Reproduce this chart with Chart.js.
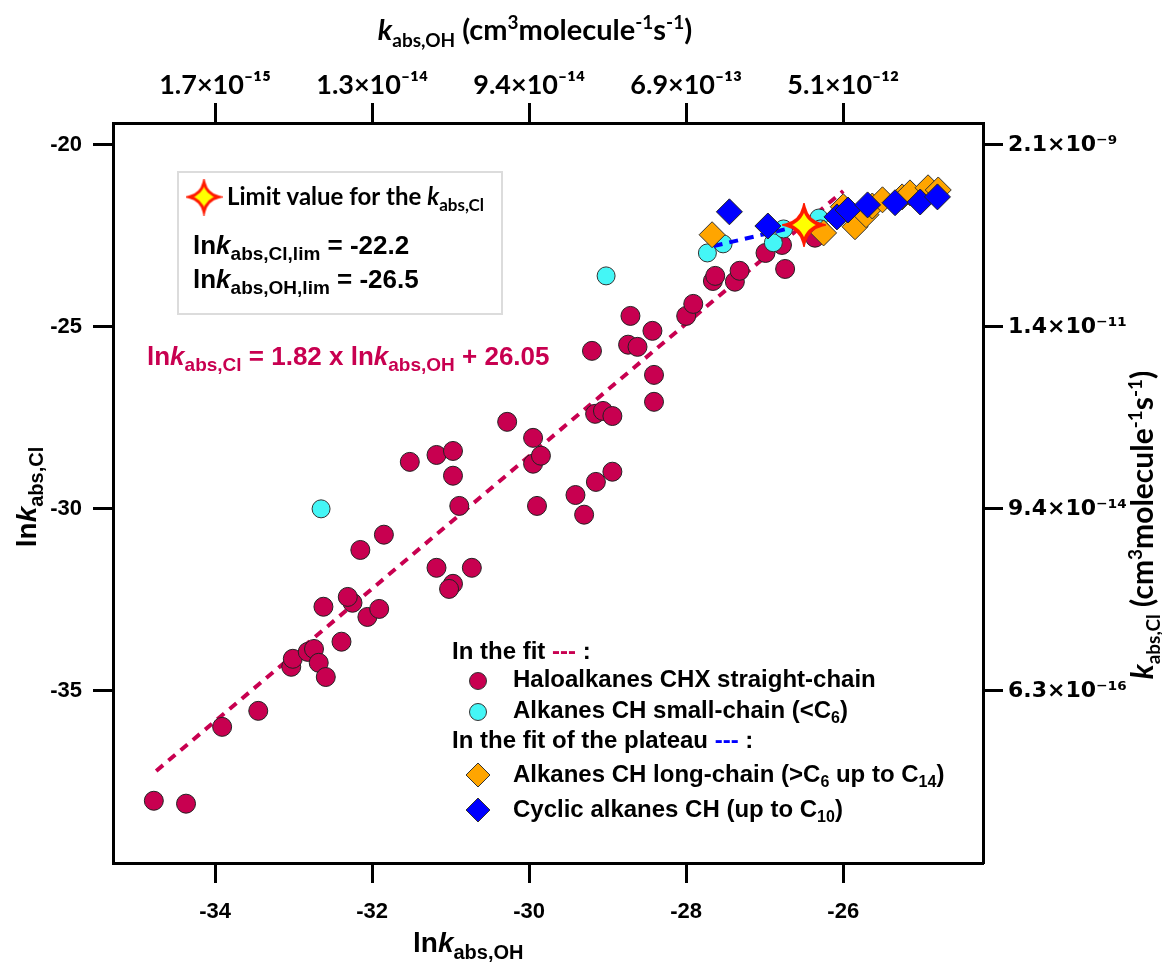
<!DOCTYPE html>
<html>
<head>
<meta charset="utf-8">
<script src="https://cdn.jsdelivr.net/npm/chart.js@4.4.1/dist/chart.umd.min.js"></script>
<style>body{margin:0;background:#fff}</style>
</head>
<body>
<canvas id="chart" width="1162" height="967"></canvas>
<script>
// ln k_abs,OH (x) and ln k_abs,Cl (y)
const haloX = [-34.78, -34.37, -33.91, -33.45, -33.03, -33.01, -32.82, -32.74, -32.68, -32.59, -32.39, -32.62, -32.25, -32.31, -32.06, -31.91, -32.15, -31.85, -31.52, -31.18, -30.97, -30.97, -30.89, -31.18, -30.73, -30.97, -31.02, -30.28, -29.95, -29.95, -29.85, -29.90, -29.41, -29.30, -29.15, -28.94, -29.16, -29.06, -28.94, -28.41, -28.41, -29.20, -28.71, -28.43, -28.74, -28.62, -28.00, -27.91, -27.66, -27.63, -27.38, -27.32, -26.99, -26.78, -26.74, -26.36];
const haloY = [-38.02, -38.10, -35.99, -35.55, -34.34, -34.12, -33.93, -33.85, -34.23, -34.62, -33.65, -32.69, -32.58, -32.42, -32.97, -32.75, -31.13, -30.71, -28.71, -28.52, -28.41, -29.09, -29.92, -31.62, -31.62, -32.06, -32.20, -27.61, -28.05, -28.76, -28.54, -29.92, -29.62, -30.16, -29.26, -28.98, -27.39, -27.31, -27.45, -26.32, -27.06, -25.66, -24.70, -25.11, -25.49, -25.55, -24.70, -24.37, -23.74, -23.60, -23.76, -23.46, -22.97, -22.75, -23.41, -22.55];

const smallX = [-32.65, -29.02, -27.73, -27.53, -26.89, -26.76, -26.31, -26.29];
const smallY = [-30.00, -23.60, -22.97, -22.72, -22.69, -22.31, -22.01, -22.31];

const longX = [-27.67, -26.25, -25.85, -26.00, -25.71, -25.63, -25.50, -25.25, -25.15, -24.92, -24.79];
const longY = [-22.47, -22.42, -22.25, -21.70, -21.92, -21.68, -21.51, -21.43, -21.32, -21.18, -21.24];

const cycX = [-27.45, -26.96, -26.08, -25.94, -25.69, -25.34, -25.02, -24.80];
const cycY = [-21.84, -22.23, -21.98, -21.79, -21.65, -21.59, -21.57, -21.43];

const limX = [-26.5];
const limY = [-22.2];

// fit line ends and plateau line ends
const fitX = [-34.75, -26.0];
const fitY = [-37.2, -21.27];
const plateauX = [-27.65, -26.6];
const plateauY = [-22.78, -22.25];

const xTicks = [-34, -32, -30, -28, -26];
const yTicks = [-20, -25, -30, -35];
const topLabels = ['1.7×10⁻¹⁵', '1.3×10⁻¹⁴', '9.4×10⁻¹⁴', '6.9×10⁻¹³', '5.1×10⁻¹²'];
const rightLabels = ['2.1×10⁻⁹', '1.4×10⁻¹¹', '9.4×10⁻¹⁴', '6.3×10⁻¹⁶'];

const CRIMSON = '#C80050';
const CYAN = '#44F6F6';
const ORANGE = '#FFA500';
const BLUE = '#0000FF';
const ARIAL = '"Liberation Sans", Arial, sans-serif';
const CAL = 'Lato, "Open Sans", sans-serif';
const TAH = '"DejaVu Sans", sans-serif';

const pts = (xs, ys) => xs.map((x, i) => ({ x, y: ys[i] }));

function makeStar(r, lw) {
  const c = document.createElement('canvas');
  const s = Math.ceil(2 * r + 2 * lw + 2);
  c.width = c.height = s;
  const g = c.getContext('2d');
  const m = s / 2, k = r * 0.2;
  g.beginPath();
  g.moveTo(m, m - r);
  g.quadraticCurveTo(m + k, m - k, m + r, m);
  g.quadraticCurveTo(m + k, m + k, m, m + r);
  g.quadraticCurveTo(m - k, m + k, m - r, m);
  g.quadraticCurveTo(m - k, m - k, m, m - r);
  g.closePath();
  g.fillStyle = '#FFFF00';
  g.fill();
  g.lineWidth = lw;
  g.strokeStyle = '#FF1A00';
  g.stroke();
  return c;
}

const bigStar = makeStar(17.5, 3.5);
const smallStar = makeStar(14.5, 3);

// text with sub/superscripts: parts = [text, size, {it, dy, color}]
function rich(ctx, parts, x, y, family, align) {
  const fontOf = (p) => `${p[2] && p[2].it ? 'italic ' : ''}bold ${p[1]}px ${family}`;
  let w = 0;
  const widths = parts.map((p) => {
    ctx.font = fontOf(p);
    const m = ctx.measureText(p[0]).width;
    w += m;
    return m;
  });
  let cx = align === 'center' ? x - w / 2 : x;
  ctx.textAlign = 'left';
  ctx.textBaseline = 'alphabetic';
  parts.forEach((p, i) => {
    const o = p[2] || {};
    ctx.font = fontOf(p);
    ctx.fillStyle = o.color || '#000';
    ctx.fillText(p[0], cx, y + (o.dy || 0));
    cx += widths[i];
  });
}

const annotations = {
  id: 'annotations',
  afterDraw(chart) {
    const ctx = chart.ctx;
    ctx.save();

    // axis titles
    rich(ctx, [['ln', 28], ['k', 28, { it: 1 }], ['abs,OH', 20, { dy: 7 }]], 413, 952, ARIAL, 'left');

    ctx.save();
    ctx.translate(36, 497);
    ctx.rotate(-Math.PI / 2);
    rich(ctx, [['ln', 28], ['k', 28, { it: 1 }], ['abs,Cl', 20, { dy: 7 }]], 0, 0, ARIAL, 'center');
    ctx.restore();

    rich(ctx, [['k', 29, { it: 1 }], ['abs,OH', 19, { dy: 7 }], [' (cm', 29], ['3', 19, { dy: -11 }],
      ['molecule', 29], ['-1', 19, { dy: -11 }], ['s', 29], ['-1', 19, { dy: -11 }], [')', 29]], 535, 40, CAL, 'center');

    ctx.save();
    ctx.translate(1153, 525);
    ctx.rotate(-Math.PI / 2);
    rich(ctx, [['k', 30, { it: 1 }], ['abs,Cl', 19, { dy: 7 }], [' (cm', 30], ['3', 19, { dy: -11 }],
      ['molecule', 30], ['-1', 19, { dy: -11 }], ['s', 30], ['-1', 19, { dy: -11 }], [')', 30]], 0, 0, CAL, 'center');
    ctx.restore();

    // limit value box
    ctx.fillStyle = '#fff';
    ctx.fillRect(178, 172, 324, 142);
    ctx.strokeStyle = '#dcdcdc';
    ctx.lineWidth = 2;
    ctx.strokeRect(178, 172, 324, 142);
    ctx.drawImage(smallStar, 204 - smallStar.width / 2, 197 - smallStar.height / 2);
    rich(ctx, [['Limit value for the ', 24], ['k', 24, { it: 1 }], ['abs,Cl', 17, { dy: 6 }]], 227, 205, CAL, 'left');
    rich(ctx, [['ln', 26], ['k', 26, { it: 1 }], ['abs,Cl,lim', 19, { dy: 6 }], [' = -22.2', 26]], 193, 254, ARIAL, 'left');
    rich(ctx, [['ln', 26], ['k', 26, { it: 1 }], ['abs,OH,lim', 19, { dy: 6 }], [' = -26.5', 26]], 193, 288, ARIAL, 'left');

    // fit equation
    rich(ctx, [['ln', 26, { color: CRIMSON }], ['k', 26, { it: 1, color: CRIMSON }], ['abs,Cl', 19, { dy: 6, color: CRIMSON }],
      [' = 1.82 x ln', 26, { color: CRIMSON }], ['k', 26, { it: 1, color: CRIMSON }], ['abs,OH', 19, { dy: 6, color: CRIMSON }],
      [' + 26.05', 26, { color: CRIMSON }]], 147, 365, ARIAL, 'left');

    // legend
    rich(ctx, [['In the fit ', 24], ['---', 24, { color: CRIMSON }], [' :', 24]], 452, 659, ARIAL, 'left');
    rich(ctx, [['Haloalkanes CHX straight-chain', 24]], 513, 687, ARIAL, 'left');
    rich(ctx, [['Alkanes CH small-chain (<C', 24], ['6', 16, { dy: 5 }], [')', 24]], 513, 718, ARIAL, 'left');
    rich(ctx, [['In the fit of the plateau ', 24], ['---', 24, { color: BLUE }], [' :', 24]], 452, 748, ARIAL, 'left');
    rich(ctx, [['Alkanes CH long-chain (>C', 24], ['6', 16, { dy: 5 }], [' up to C', 24], ['14', 16, { dy: 5 }], [')', 24]], 513, 782, ARIAL, 'left');
    rich(ctx, [['Cyclic alkanes CH (up to C', 24], ['10', 16, { dy: 5 }], [')', 24]], 513, 817, ARIAL, 'left');

    ctx.lineWidth = 1;
    ctx.strokeStyle = '#333';
    [[681, CRIMSON], [712, CYAN]].forEach(([y, c]) => {
      ctx.beginPath();
      ctx.arc(478, y, 8.5, 0, Math.PI * 2);
      ctx.fillStyle = c;
      ctx.fill();
      ctx.stroke();
    });
    [[775, ORANGE], [810, BLUE]].forEach(([y, c]) => {
      ctx.beginPath();
      ctx.moveTo(478, y - 12);
      ctx.lineTo(490, y);
      ctx.lineTo(478, y + 12);
      ctx.lineTo(466, y);
      ctx.closePath();
      ctx.fillStyle = c;
      ctx.fill();
      ctx.stroke();
    });
    ctx.restore();
  },
};

const tickGrid = { display: true, drawOnChartArea: false, drawTicks: true, tickLength: 20, tickWidth: 3, tickColor: '#000' };
const frame = { display: true, color: '#000', width: 3 };
const setTicks = (vals) => (s) => { s.ticks = vals.map((value) => ({ value })); };

new Chart(document.getElementById('chart'), {
  type: 'scatter',
  data: {
    datasets: [
      { data: pts(limX, limY), pointStyle: bigStar, order: 0 },
      { data: pts(cycX, cycY), pointStyle: 'rectRot', pointRadius: 13, backgroundColor: BLUE, borderColor: '#222', borderWidth: 1, order: 1 },
      { data: pts(longX, longY), pointStyle: 'rectRot', pointRadius: 13, backgroundColor: ORANGE, borderColor: '#333', borderWidth: 1, order: 2 },
      { data: pts(plateauX, plateauY), showLine: true, pointRadius: 0, borderColor: BLUE, borderWidth: 4, borderDash: [9, 7], order: 3 },
      { data: pts(smallX, smallY), pointRadius: 9, backgroundColor: CYAN, borderColor: '#333', borderWidth: 1, order: 4 },
      { data: pts(haloX, haloY), pointRadius: 9.5, backgroundColor: CRIMSON, borderColor: '#222', borderWidth: 1, order: 5 },
      { data: pts(fitX, fitY), showLine: true, pointRadius: 0, borderColor: CRIMSON, borderWidth: 4, borderDash: [9, 7], order: 6 },
    ],
  },
  options: {
    responsive: false,
    animation: false,
    layout: { padding: 0 },
    plugins: { legend: { display: false }, tooltip: { enabled: false } },
    scales: {
      x: {
        type: 'linear', position: 'bottom', min: -35.3, max: -24.22,
        afterBuildTicks: setTicks(xTicks),
        afterFit: (s) => { s.height = 104; },
        border: frame, grid: tickGrid,
        ticks: { color: '#000', padding: 16, maxRotation: 0, autoSkip: false, font: { family: ARIAL, weight: 'bold', size: 22 } },
      },
      x2: {
        type: 'linear', position: 'top', min: -35.3, max: -24.22,
        afterBuildTicks: setTicks(xTicks),
        afterFit: (s) => { s.height = 123; },
        border: frame, grid: tickGrid,
        ticks: { color: '#000', padding: 2, maxRotation: 0, autoSkip: false, font: { family: CAL, weight: 'bold', size: 27 },
          callback: (v, i) => topLabels[i] },
      },
      y: {
        type: 'linear', position: 'left', min: -39.73, max: -19.4,
        afterBuildTicks: setTicks(yTicks),
        afterFit: (s) => { s.width = 113; },
        border: frame, grid: tickGrid,
        ticks: { color: '#000', padding: 11, autoSkip: false, font: { family: ARIAL, weight: 'bold', size: 22 } },
      },
      y2: {
        type: 'linear', position: 'right', min: -39.73, max: -19.4,
        afterBuildTicks: setTicks(yTicks),
        afterFit: (s) => { s.width = 179; },
        border: frame, grid: tickGrid,
        ticks: { color: '#000', padding: 5, autoSkip: false, font: { family: TAH, weight: 'bold', size: 22 },
          callback: (v, i) => rightLabels[i] },
      },
    },
  },
  plugins: [annotations],
});
</script>
</body>
</html>
